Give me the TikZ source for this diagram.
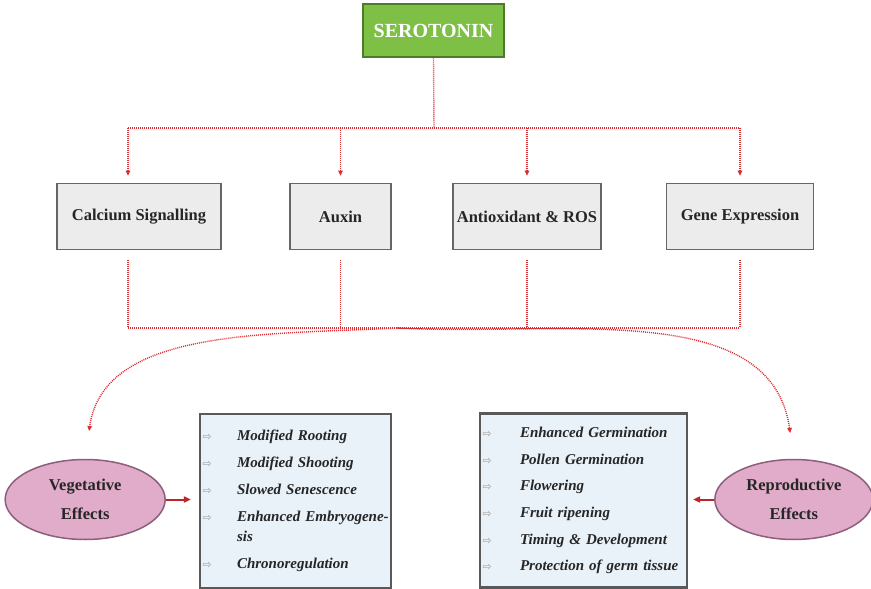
\documentclass[tikz,border=0pt]{standalone}
\usepackage{fontspec}
\setmainfont{Liberation Serif}
\newfontfamily\symfont{DejaVu Sans}
\usetikzlibrary{arrows.meta,positioning,calc,shapes.geometric}

\definecolor{serogreen}{RGB}{126,192,70}
\definecolor{serodark}{RGB}{78,122,44}
\definecolor{linered}{RGB}{220,45,50}
\definecolor{boxgray}{RGB}{236,236,236}
\definecolor{listblue}{RGB}{233,241,249}
\definecolor{effpink}{RGB}{224,172,201}
\definecolor{effrim}{RGB}{140,95,122}

\newcommand{\itemarr}[1][34.5pt]{\makebox[#1][l]{\textcolor{gray!60}{\symfont\fontsize{11}{11}\selectfont ⇨}}}

\begin{document}
\begin{tikzpicture}[x=1pt, y=-1pt,
        topbox/.style={draw=serodark, line width=1.2pt, fill=serogreen,
                       text=white, font=\bfseries\fontsize{20}{24}\selectfont,
                       minimum width=141pt, minimum height=53pt},
        pathbox/.style={draw=black!60, line width=1.6pt, fill=boxgray,
                        font=\bfseries\fontsize{16.5}{19}\selectfont,
                        minimum height=66pt, text=black!85},
        listbox/.style={draw=black!65, line width=2.2pt, fill=listblue,
                        align=left, inner xsep=2.5pt, minimum height=174pt,
                        font=\bfseries\itshape\fontsize{15}{16}\selectfont,
                        text=black!85},
        effect/.style={ellipse, draw=effrim, line width=1.5pt, fill=effpink,
                       align=center, inner sep=0pt, minimum height=80pt,
                       font=\bfseries\fontsize{16.5}{29}\selectfont, text=black!85},
        dots/.style={linered, line width=1.4pt, dash pattern=on 1pt off 1pt},
        dotarr/.style={dots, -{Triangle[length=5pt,width=4.5pt]}},
        sidearr/.style={-{Triangle[length=7pt,width=6pt]}, line width=2pt,
                        linered!85!black}
      ]
        \useasboundingbox (0,0) rectangle (871,589);

        % top and pathway row
        \node[topbox] (sero) at (433.5,30.5) {SEROTONIN};
        \node[pathbox, minimum width=164pt] (calsig) at (139,216.5) {Calcium Signalling};
        \node[pathbox, minimum width=101pt] (auxin) at (340.5,216.5) {Auxin};
        \node[pathbox, minimum width=148pt] (antiox) at (527,216.5) {Antioxidant \& ROS};
        \node[pathbox, minimum width=147pt] (gene) at (740,216.5) {Gene Expression};

        % effect lists
        \node[listbox, text width=186pt] (veglist) at (295.5,501) {%
          \itemarr Modified Rooting\\[11pt]
          \itemarr Modified Shooting\\[11pt]
          \itemarr Slowed Senescence\\[11pt]
          \itemarr\mbox{Enhanced Embryogene-}\\[4pt]
          \hspace*{34.5pt}sis\\[11pt]
          \itemarr Chronoregulation};
        \node[listbox, text width=202pt] (replist) at (583.5,500.5) {%
          \itemarr[32.5pt] Enhanced Germination\\[10.6pt]
          \itemarr[32.5pt] Pollen Germination\\[10.6pt]
          \itemarr[32.5pt] Flowering\\[10.6pt]
          \itemarr[32.5pt] Fruit ripening\\[10.6pt]
          \itemarr[32.5pt] Timing \& Development\\[10.6pt]
          \itemarr[32.5pt] \mbox{Protection of germ tissue}};
        \node[effect, minimum width=160pt, left=33pt of veglist, yshift=1.5pt] (veg) {Vegetative\\Effects};
        \node[effect, minimum width=158pt, right=26pt of replist, yshift=1pt] (rep) {Reproductive\\Effects};

        % dotted connectors
        \coordinate (topbus) at (434,128);
        \coordinate (botbus) at (434,328);
        \coordinate (split) at (397,328);
        \coordinate (caltop) at ($(calsig.north)+(-11,0)$);
        \coordinate (calbot) at ($(calsig.south)+(-11,0)$);
        \draw[dots] (sero.south) -- (topbus);
        \draw[dots] (caltop |- topbus) -- (gene.north |- topbus);
        \foreach \n in {caltop, auxin.north, antiox.north, gene.north}
          \draw[dotarr, shorten >=7pt] (\n |- topbus) -- (\n);
        \foreach \n in {calbot, auxin.south, antiox.south, gene.south}
          \draw[dots, shorten <=10pt] (\n) -- (\n |- botbus);
        \draw[dots] (calbot |- botbus) -- (gene.south |- botbus);
        \draw[dotarr, shorten >=28pt] (split) to[out=183, in=82] (veg.north);
        \draw[dotarr, shorten >=26pt] (split) to[out=-3, in=98] (rep.north);

        % solid arrows to lists
        \draw[sidearr, shorten >=8pt] (veg.east) -- (veg.east -| veglist.west);
        \draw[sidearr, shorten >=5pt] (rep.west) -- (rep.west -| replist.east);
      \end{tikzpicture}
\end{document}
